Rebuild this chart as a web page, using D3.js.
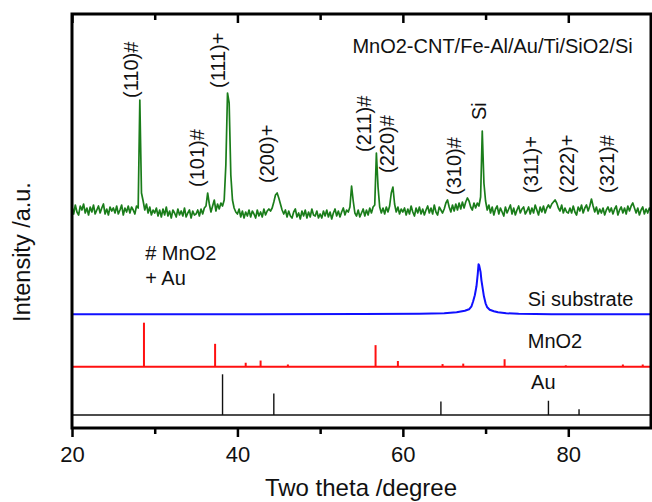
<!DOCTYPE html>
<html>
<head>
<meta charset="utf-8">
<script src="https://cdn.jsdelivr.net/npm/d3@7"></script>
<style>
body { margin: 0; background: #fff; }
svg { display: block; font-family: "Liberation Sans", Arial, sans-serif; }
</style>
</head>
<body>
<script>
// measured pattern, 20-90 deg, 0.2 deg step (a.u., background ~20)
var greenStart = 20;
var greenStep = 0.2;
var greenCounts = [
	24,17,26,19,16,25,21,27,18,23,16,24,19,26,17,21,25,18,23,27,17,22,16,24,20,
	23,18,25,17,21,26,16,23,19,25,18,24,21,17,25,23,131,38,30,21,27,18,24,16,21,
	18,23,15,21,14,22,16,24,15,20,13,21,18,14,22,16,20,15,23,14,18,21,13,20,16,
	17,21,15,22,17,23,25,38,27,19,25,31,20,27,22,28,25,31,66,138,128,56,31,23,19,
	17,22,14,20,13,19,15,21,14,20,17,13,21,15,19,14,22,16,20,22,20,23,29,36,38,
	33,27,21,17,21,14,20,15,13,19,22,14,18,12,20,15,21,13,19,14,22,16,15,20,13,
	17,13,20,15,21,14,19,12,18,22,15,20,14,19,23,16,21,19,24,45,30,18,15,21,14,
	18,22,15,21,16,23,18,24,26,78,44,24,18,23,17,24,19,25,38,44,27,19,24,17,22,
	19,23,16,22,17,25,19,15,23,18,24,17,22,16,21,25,18,23,17,26,19,16,24,21,18,
	22,28,31,24,19,26,20,27,21,28,22,29,23,29,33,30,24,21,28,23,28,25,34,100,48,
	30,21,26,18,24,16,22,25,17,23,19,15,24,18,22,26,17,23,16,21,25,18,22,24,17,
	20,24,17,23,18,26,21,16,24,19,25,18,23,26,23,27,29,31,28,23,20,26,18,23,19,
	18,23,18,25,19,16,24,20,26,18,23,26,20,25,32,25,19,24,17,22,18,23,16,21,24,
	19,23,17,22,25,16,21,24,18,23,17,25,20,25,28,23,18,23,16,21,24,17,22,18,23,
	20
];

// Si substrate
var siTheta = [20, 40, 55, 62, 65, 66.5, 67.5, 68.0, 68.3, 68.5, 68.7, 68.9, 69.05, 69.15, 69.22, 69.3, 69.4, 69.5, 69.65, 69.8, 70.0, 70.2, 70.5, 71.0, 71.5, 72.5, 74, 78, 90];
var siCounts = [0, 0, 0.3, 0.5, 1, 2, 3.5, 5, 8, 13, 19, 28, 40, 50, 49, 46, 42, 34, 26, 18, 11, 7, 4.5, 3, 2, 1, 0.5, 0, 0];

// reference cards (relative intensity)
var mno2Theta = [28.7, 37.3, 41.0, 42.8, 46.1, 56.7, 59.4, 64.8, 67.3, 72.3, 79.7, 86.6, 89.0];
var mno2Int = [100, 52, 9, 14, 5, 49, 13, 6, 7, 17, 3, 5, 5];
var auTheta = [38.2, 44.4, 64.6, 77.6, 81.3];
var auInt = [100, 53, 33, 35, 14];

// stacking offsets (a.u.)
var offsets = { green: 197, si: 113.7, mno2: 61.3, au: 13 };
var stickScale = { mno2: 0.44, au: 0.407 };

var peakLabels = ['(110)#', '(101)#', '(111)+', '(200)+', '(211)#', '(220)#', '(310)#', 'Si', '(311)+', '(222)+', '(321)#'];
var peakLabelTheta = [27.97, 35.98, 38.51, 44.43, 56.15, 58.93, 67.02, 70.1, 76.32, 80.67, 85.5];
var peakLabelLevel = [330, 241, 340, 245, 276, 255, 233, 308, 235, 235, 235];

var xMajor = [20, 40, 60, 80];
var xMinor = [30, 50, 70];

var width = 652, height = 502;

var svg = d3.select('body').append('svg')
	.attr('width', width)
	.attr('height', height);

var x = d3.scaleLinear().domain([20, 90]).range([72, 651]);
var y = d3.scaleLinear().domain([0, 414]).range([428, 14]);

svg.append('clipPath')
	.attr('id', 'plot-clip')
	.append('rect')
	.attr('x', 72).attr('y', 14)
	.attr('width', 579).attr('height', 414);

var plot = svg.append('g').attr('clip-path', 'url(#plot-clip)');

// green measured pattern
var greenLine = d3.line()
	.x(function(d, i) { return x(greenStart + i*greenStep); })
	.y(function(d) { return y(offsets.green + d); });

plot.append('path')
	.datum(greenCounts)
	.attr('d', greenLine)
	.attr('fill', 'none')
	.attr('stroke', '#1a7d1a')
	.attr('stroke-width', 1.7)
	.attr('stroke-linejoin', 'round');

// Si substrate
var siLine = d3.line()
	.x(function(d, i) { return x(siTheta[i]); })
	.y(function(d) { return y(offsets.si + d); });

plot.append('path')
	.datum(siCounts)
	.attr('d', siLine)
	.attr('fill', 'none')
	.attr('stroke', '#1010ff')
	.attr('stroke-width', 2)
	.attr('stroke-linejoin', 'round');

// stick patterns
function drawSticks(thetas, ints, offset, k, color, w) {
	var g = plot.append('g');
	g.append('line')
		.attr('x1', x(20)).attr('x2', x(90))
		.attr('y1', y(offset)).attr('y2', y(offset))
		.attr('stroke', color)
		.attr('stroke-width', w);
	g.selectAll('line.stick')
		.data(thetas)
		.enter().append('line')
		.attr('class', 'stick')
		.attr('x1', function(d) { return x(d); })
		.attr('x2', function(d) { return x(d); })
		.attr('y1', y(offset))
		.attr('y2', function(d, i) { return y(offset + ints[i]*k); })
		.attr('stroke', color)
		.attr('stroke-width', w);
}
drawSticks(mno2Theta, mno2Int, offsets.mno2, stickScale.mno2, '#ff1010', 2);
drawSticks(auTheta, auInt, offsets.au, stickScale.au, '#111', 1.4);

// peak labels
svg.append('g').selectAll('text')
	.data(peakLabels)
	.enter().append('text')
	.attr('transform', function(d, i) {
		return 'translate(' + x(peakLabelTheta[i]) + ',' + y(peakLabelLevel[i]) + ') rotate(-90)';
	})
	.attr('font-size', 20)
	.attr('fill', '#111')
	.text(function(d) { return d; });

// other texts
var notes = svg.append('g').attr('font-size', 20).attr('fill', '#111');
notes.append('text').attr('x', x(53.9)).attr('y', y(375)).text('MnO2-CNT/Fe-Al/Au/Ti/SiO2/Si');
notes.append('text').attr('x', x(28.85)).attr('y', y(168)).text('# MnO2');
notes.append('text').attr('x', x(28.85)).attr('y', y(143)).text('+ Au');
notes.append('text').attr('x', x(75.1)).attr('y', y(122)).text('Si substrate');
notes.append('text').attr('x', x(75.1)).attr('y', y(79.7)).text('MnO2');
notes.append('text').attr('x', x(75.5)).attr('y', y(38.7)).text('Au');

// axes
var bottomMajor = svg.append('g')
	.attr('transform', 'translate(0,428)')
	.call(d3.axisBottom(x).tickValues(xMajor).tickSize(9).tickPadding(9).tickFormat(d3.format('d')));
var bottomMinor = svg.append('g')
	.attr('transform', 'translate(0,428)')
	.call(d3.axisBottom(x).tickValues(xMinor).tickSize(6).tickFormat(''));
var topMajor = svg.append('g')
	.attr('transform', 'translate(0,14)')
	.call(d3.axisBottom(x).tickValues(xMajor).tickSize(9).tickFormat(''));
var topMinor = svg.append('g')
	.attr('transform', 'translate(0,14)')
	.call(d3.axisBottom(x).tickValues(xMinor).tickSize(6).tickFormat(''));

[bottomMajor, bottomMinor, topMajor, topMinor].forEach(function(a) {
	a.select('.domain').remove();
	a.selectAll('.tick line').attr('stroke', '#000').attr('stroke-width', 2.5);
});
bottomMajor.selectAll('.tick text')
	.attr('font-size', 22)
	.attr('font-family', '"Liberation Sans", Arial, sans-serif')
	.attr('fill', '#111');

// frame
svg.append('rect')
	.attr('x', 72).attr('y', 14)
	.attr('width', 579).attr('height', 414)
	.attr('fill', 'none')
	.attr('stroke', '#000')
	.attr('stroke-width', 3);

// axis titles
svg.append('text')
	.attr('x', 361).attr('y', 496)
	.attr('text-anchor', 'middle')
	.attr('font-size', 24)
	.attr('fill', '#111')
	.text('Two theta /degree');

svg.append('text')
	.attr('transform', 'translate(30,252) rotate(-90)')
	.attr('text-anchor', 'middle')
	.attr('font-size', 23.5)
	.attr('fill', '#111')
	.text('Intensity /a.u.');
</script>
</body>
</html>
